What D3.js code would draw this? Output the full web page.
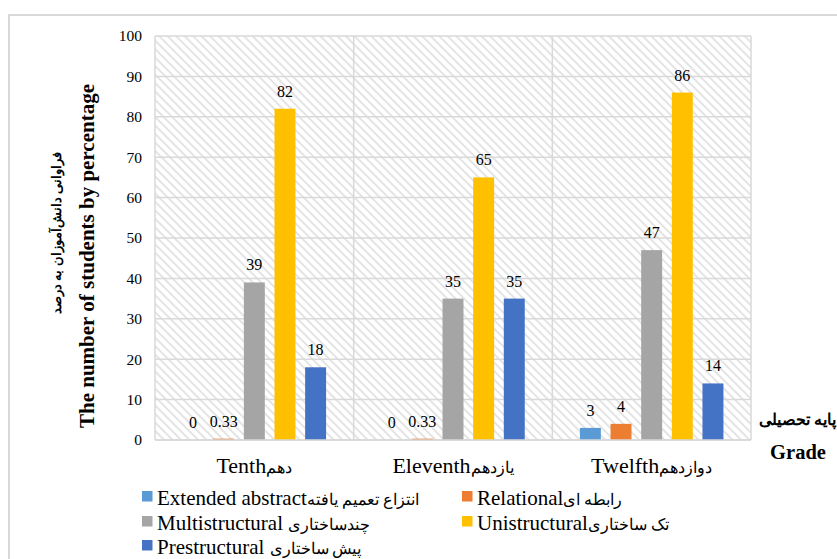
<!DOCTYPE html>
<html>
<head>
<meta charset="utf-8">
<script src="https://cdn.jsdelivr.net/npm/d3@7"></script>
<style>
  html, body { margin: 0; padding: 0; background: #fff; }
  svg { display: block; }
</style>
</head>
<body>
<svg id="chart" width="837" height="559"></svg>
<script>
// Grades (x categories) and SOLO levels (series)
const grades = ["Tenth", "Eleventh", "Twelfth"];
const gradeLabelsFa = ["دهم", "یازدهم", "دوازدهم"];
const levels = ["Extended abstract", "Relational", "Multistructural", "Unistructural", "Prestructural"];
const levelLabelsFa = ["انتزاع تعمیم یافته", "رابطه ای", "چندساختاری", "تک ساختاری", "پیش ساختاری"];
const levelGapFa = ["", "", " ", "", " "];
const levelColors = ["#5B9BD5", "#ED7D31", "#A5A5A5", "#FFC000", "#4472C4"];

// Percentage of students per level, one value per grade
const extendedAbstract = [0, 0, 3];
const relational = [0.33, 0.33, 4];
const multistructural = [39, 35, 47];
const unistructural = [82, 65, 86];
const prestructural = [18, 35, 14];

const yTicks = [0, 10, 20, 30, 40, 50, 60, 70, 80, 90, 100];

const seriesValues = [extendedAbstract, relational, multistructural, unistructural, prestructural];

const SERIF = "'Liberation Serif', 'Times New Roman', Tinos, 'DejaVu Serif', serif";

const svg = d3.select("#chart");
const W = 837, H = 559;
const plot = { left: 155, right: 751, top: 36, bottom: 440 };

// outer chart frame
svg.append("rect")
  .attr("x", 9).attr("y", 15)
  .attr("width", W + 10).attr("height", H + 10)
  .attr("fill", "#fff").attr("stroke", "#d9d9d9").attr("stroke-width", 2);

// diagonal hatch for the plot area
const defs = svg.append("defs");
const pat = defs.append("pattern")
  .attr("id", "hatch").attr("patternUnits", "userSpaceOnUse")
  .attr("width", 6).attr("height", 6)
  .attr("patternTransform", "rotate(45)");
pat.append("line")
  .attr("x1", 0).attr("y1", 3).attr("x2", 6).attr("y2", 3)
  .attr("stroke", "#d6d6d6").attr("stroke-width", 1.3);

const x = d3.scaleBand().domain(grades).range([plot.left, plot.right]).padding(0);
const xi = d3.scaleBand().domain(levels).range([0, x.bandwidth()])
  .paddingInner(0.316).paddingOuter(0.9);
const y = d3.scaleLinear().domain([0, 100]).range([plot.bottom, plot.top]);

svg.append("rect")
  .attr("x", plot.left).attr("y", plot.top)
  .attr("width", plot.right - plot.left).attr("height", plot.bottom - plot.top)
  .attr("fill", "url(#hatch)");

// horizontal gridlines
svg.append("g").selectAll("line").data(yTicks).join("line")
  .attr("x1", plot.left).attr("x2", plot.right)
  .attr("y1", d => y(d)).attr("y2", d => y(d))
  .attr("stroke", "#d9d9d9").attr("stroke-width", 1.5);

// vertical category separators
const seps = grades.map(g => x(g)).concat([plot.right]);
svg.append("g").selectAll("line").data(seps).join("line")
  .attr("x1", d => d).attr("x2", d => d)
  .attr("y1", plot.top).attr("y2", plot.bottom)
  .attr("stroke", "#d9d9d9").attr("stroke-width", 1.5);

// y axis tick labels
const yAxis = d3.axisLeft(y).tickValues(yTicks).tickSize(0).tickPadding(13);
const yg = svg.append("g").attr("transform", `translate(${plot.left},0)`).call(yAxis);
yg.select(".domain").remove();
yg.selectAll("text")
  .style("font-size", "15.5px").style("font-family", SERIF).style("fill", "#000");

// bars
const groups = svg.append("g").selectAll("g").data(grades).join("g")
  .attr("transform", d => `translate(${x(d)},0)`);
groups.selectAll("rect")
  .data((g, gi) => levels.map((l, li) => ({ level: l, li, value: seriesValues[li][gi] })))
  .join("rect")
  .attr("x", d => xi(d.level))
  .attr("width", xi.bandwidth())
  .attr("y", d => y(d.value))
  .attr("height", d => y(0) - y(d.value))
  .attr("fill", d => levelColors[d.li]);

// value labels
groups.selectAll("text.val")
  .data((g, gi) => levels.map((l, li) => ({ level: l, li, value: seriesValues[li][gi] })))
  .join("text")
  .attr("class", "val")
  .attr("x", d => xi(d.level) + xi.bandwidth() / 2)
  .attr("y", d => y(d.value) - 12)
  .attr("text-anchor", "middle")
  .style("font-size", "16px").style("font-family", SERIF).style("fill", "#000")
  .text(d => d.value);

// x axis line and bilingual category labels
svg.append("line")
  .attr("x1", plot.left).attr("x2", plot.right)
  .attr("y1", plot.bottom).attr("y2", plot.bottom)
  .attr("stroke", "#d9d9d9").attr("stroke-width", 1.5);

const xAxis = d3.axisBottom(x).tickSize(0).tickPadding(0).tickFormat("");
const xg = svg.append("g").attr("transform", `translate(0,${plot.bottom})`).call(xAxis);
xg.select(".domain").remove();
xg.selectAll(".tick text")
  .attr("y", 33).attr("dy", 0)
  .attr("direction", "ltr")
  .style("font-family", SERIF).style("fill", "#000")
  .each(function (d, i) {
    const t = d3.select(this);
    t.append("tspan").style("font-size", "22px").text(d);
    t.append("tspan").style("font-size", "16px").text(gradeLabelsFa[i]);
  });

// y axis titles
svg.append("text")
  .attr("transform", "translate(94,256) rotate(-90)")
  .attr("text-anchor", "middle")
  .style("font-size", "21px").style("font-weight", "bold").style("font-family", SERIF)
  .text("The number of students by percentage");
svg.append("text")
  .attr("transform", "translate(61,233) rotate(-90)")
  .attr("text-anchor", "middle")
  .attr("direction", "rtl")
  .style("font-size", "12.5px").style("font-weight", "bold").style("font-family", SERIF)
  .text("فراوانی دانش‌آموزان به درصد");

// x axis titles
svg.append("text")
  .attr("x", 836).attr("y", 425)
  .attr("text-anchor", "end")
  .style("font-size", "16px").style("font-weight", "bold").style("font-family", SERIF)
  .text("پایه تحصیلی");
svg.append("text")
  .attr("x", 798).attr("y", 459)
  .attr("text-anchor", "middle")
  .style("font-size", "20.5px").style("font-weight", "bold").style("font-family", SERIF)
  .text("Grade");

// legend
const legendPos = [
  { x: 142, y: 505 }, { x: 462, y: 505 },
  { x: 142, y: 530 }, { x: 462, y: 530 },
  { x: 142, y: 554 }
];
const lg = svg.append("g").selectAll("g").data(levels).join("g")
  .attr("transform", (d, i) => `translate(${legendPos[i].x},${legendPos[i].y})`);
lg.append("rect")
  .attr("x", 0).attr("y", -14).attr("width", 10.5).attr("height", 10.5)
  .attr("fill", (d, i) => levelColors[i]);
const lt = lg.append("text")
  .attr("x", 15).attr("y", 0)
  .attr("direction", "ltr")
  .style("font-family", SERIF).style("fill", "#000");
lt.append("tspan").style("font-size", "21px").text((d, i) => d + levelGapFa[i]);
lt.append("tspan").style("font-size", "15.5px").text((d, i) => levelLabelsFa[i]);
</script>
</body>
</html>
